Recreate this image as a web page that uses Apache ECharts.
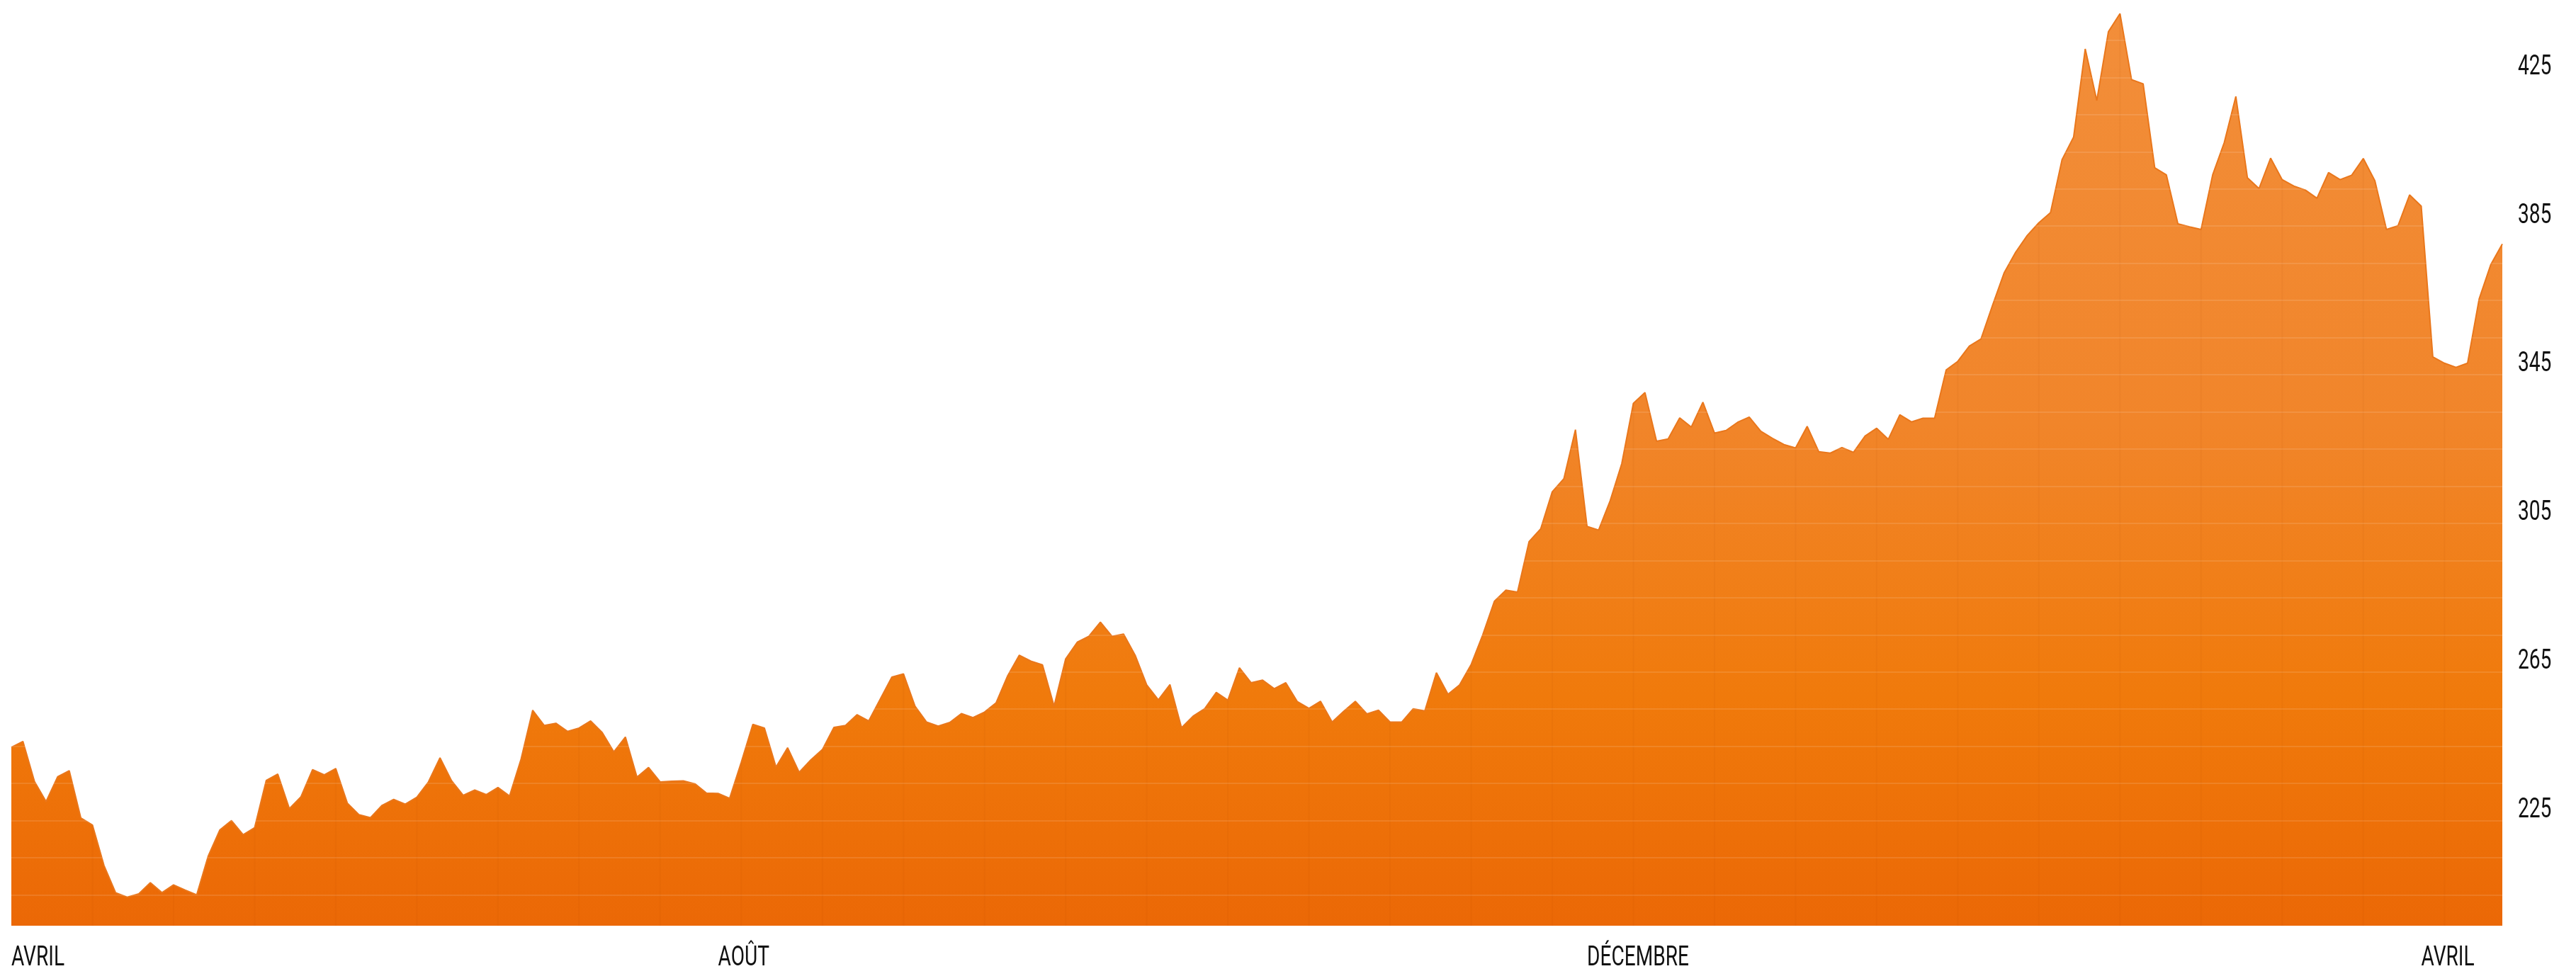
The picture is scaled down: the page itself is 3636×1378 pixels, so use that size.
<!DOCTYPE html>
<html>
<head>
<meta charset="utf-8">
<script src="https://cdn.jsdelivr.net/npm/echarts@6/dist/echarts.min.js"></script>
<style>
html,body{margin:0;padding:0;background:#ffffff;}
#chart{width:3636px;height:1378px;}
</style>
</head>
<body>
<div id="chart"></div>
<script>
// Series values (one per trading point)
const values = [
239.7,241.3,230.5,225.1,231.8,233.4,220.7,218.8,207.9,200.6,
199.4,200.3,203.3,200.6,202.7,201.3,200.0,210.5,217.5,220.0,
216.2,218.1,230.8,232.5,223.2,226.4,233.7,232.3,234.0,224.7,
221.6,220.8,224.1,225.7,224.4,226.3,230.4,236.9,230.7,226.8,
228.2,227.0,228.9,226.6,236.6,249.7,245.6,246.2,244.0,244.9,
246.8,243.7,238.5,242.5,231.7,234.3,230.4,230.6,230.7,229.9,
227.4,227.3,226.0,235.7,245.9,244.9,234.4,239.6,233.0,236.3,
239.1,245.1,245.6,248.5,246.8,252.7,258.6,259.5,250.8,246.5,
245.4,246.4,248.8,247.7,249.2,251.7,259.0,264.5,262.9,261.9,
250.8,263.5,268.0,269.6,273.4,269.6,270.2,264.5,256.5,252.5,
256.6,245.0,248.1,250.1,254.5,252.4,261.1,257.1,257.8,255.5,
257.1,252.0,250.2,252.1,246.5,249.4,252.1,248.7,249.7,246.5,
246.5,250.1,249.5,259.8,254.0,256.5,262.0,270.0,279.0,282.0,
281.5,295.1,298.5,308.5,312.0,325.2,299.2,298.2,306.1,316.1,
332.3,335.2,322.1,322.7,328.4,325.9,332.6,324.3,325.0,327.2,
328.6,324.8,322.9,321.2,320.3,326.1,319.3,318.9,320.4,319.1,
323.5,325.6,322.6,329.2,327.3,328.3,328.3,341.3,343.6,347.7,
349.6,358.7,367.4,373.0,377.5,380.9,383.6,397.9,404.0,427.7,
413.8,432.3,437.2,419.4,418.3,395.7,393.8,380.6,379.8,379.1,
393.8,402.5,414.9,393.0,390.1,398.3,392.5,390.8,389.7,387.5,
394.4,392.5,393.7,398.2,392.2,379.1,380.1,388.4,385.4,344.8,
343.1,342.0,343.1,360.4,369.6,375.2
];
// Category positions (point index) and month tick labels
const categories = values.map((v, i) => String(i));
const monthIndex = [0, 61, 136, 208];
const monthLabels = ['AVRIL', 'AOÛT', 'DÉCEMBRE', 'AVRIL'];
// Y tick labels and faint horizontal guide values
const yTickLabels = [225, 265, 305, 345, 385, 425];
const guideValues = [200, 210, 220, 230, 240, 250, 260, 270, 280, 290, 300, 310, 320, 330, 340, 350, 360, 370, 380, 390, 400, 410, 420, 430];
const weekStep = 7;
const yMin = 191.7, yMax = 440;

const FONT = "Roboto, 'Liberation Sans', sans-serif";
const TEXT_COLOR = '#111111';

const chart = echarts.init(document.getElementById('chart'), null, {renderer: 'canvas'});
chart.setOption({
  animation: false,
  backgroundColor: '#ffffff',
  grid: {left: 16, right: 104, top: 4.5, bottom: 71, containLabel: false},
  xAxis: {
    type: 'category',
    data: categories,
    boundaryGap: false,
    axisLine: {show: false},
    axisTick: {show: false},
    splitLine: {show: false},
    axisLabel: {show: false}
  },
  yAxis: {
    type: 'value',
    position: 'right',
    min: yMin,
    max: yMax,
    axisLine: {show: false},
    axisTick: {show: false},
    splitLine: {show: false},
    axisLabel: {show: false}
  },
  series: [
    {
      type: 'line',
      data: values,
      symbol: 'none',
      z: 2,
      lineStyle: {width: 2, color: '#E9771C'},
      areaStyle: {
        opacity: 1,
        color: new echarts.graphic.LinearGradient(0, 0, 0, 1, [
          {offset: 0, color: '#F28E3A'},
          {offset: 0.45, color: '#F1852A'},
          {offset: 0.75, color: '#F07A0B'},
          {offset: 1, color: '#EB6806'}
        ])
      },
      markLine: {
        silent: true,
        symbol: ['none', 'none'],
        label: {show: false},
        animation: false,
        lineStyle: {color: 'rgba(255,255,255,0.15)', width: 1.5, type: 'solid'},
        emphasis: {disabled: true},
        data: guideValues.map(v => ({yAxis: v}))
      }
    },
    {
      type: 'bar',
      data: values.map((v, i) => (i > 0 && i % weekStep === 0) ? v : '-'),
      barWidth: 2,
      z: 3,
      silent: true,
      itemStyle: {color: 'rgba(170,60,0,0.06)'}
    }
  ]
});

// Axis labels placed through the axes' own scales (condensed via scaleX)
const bottomPx = chart.convertToPixel({yAxisIndex: 0}, yMin);
const rightPx = chart.convertToPixel({xAxisIndex: 0}, values.length - 1);
const graphics = [];
yTickLabels.forEach(function (v) {
  graphics.push({
    type: 'text',
    x: rightPx + 22,
    y: chart.convertToPixel({yAxisIndex: 0}, v) + 12,
    scaleX: 0.74,
    silent: true,
    style: {
      text: String(v),
      fontFamily: FONT,
      fontSize: 38,
      fontWeight: 400,
      fill: TEXT_COLOR,
      align: 'left',
      verticalAlign: 'middle'
    }
  });
});
monthIndex.forEach(function (idx, i) {
  graphics.push({
    type: 'text',
    x: chart.convertToPixel({xAxisIndex: 0}, idx),
    y: bottomPx + 46,
    scaleX: 0.72,
    silent: true,
    style: {
      text: monthLabels[i],
      fontFamily: FONT,
      fontSize: 39,
      fontWeight: 400,
      fill: TEXT_COLOR,
      align: 'left',
      verticalAlign: 'middle'
    }
  });
});
chart.setOption({graphic: graphics});
</script>
</body>
</html>
